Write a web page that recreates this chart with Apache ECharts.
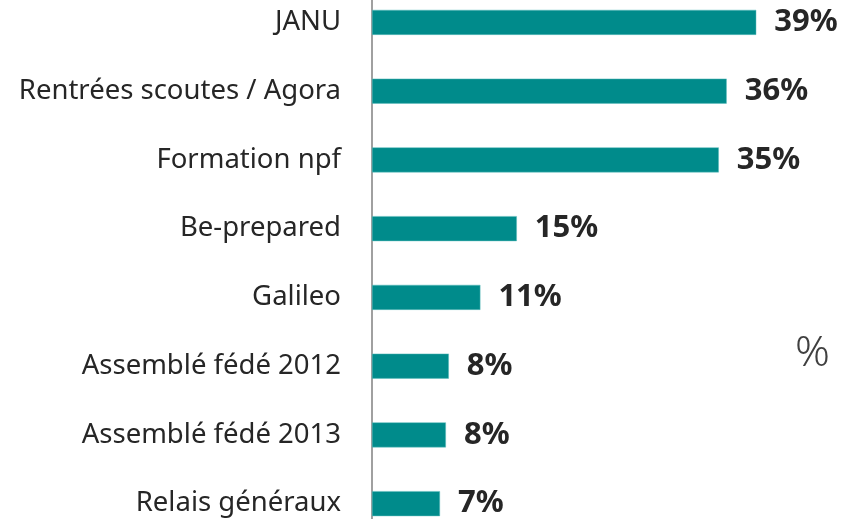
<!DOCTYPE html>
<html>
<head>
<meta charset="utf-8">
<script src="https://cdn.jsdelivr.net/npm/echarts@6/dist/echarts.min.js"></script>
<style>
  html, body { margin: 0; padding: 0; background: #fff; }
  #chart { width: 842px; height: 519px; }
</style>
</head>
<body>
<div id="chart"></div>
<script>
// categories top to bottom
const categories = [
  'JANU',
  'Rentrées scoutes / Agora',
  'Formation npf',
  'Be-prepared',
  'Galileo',
  'Assemblé fédé 2012',
  'Assemblé fédé 2013',
  'Relais généraux'
];
// share in percent
const values = [39.0, 36.0, 35.2, 14.7, 11.0, 7.8, 7.5, 6.9];
const unitLabel = '%';

const chart = echarts.init(document.getElementById('chart'));

const option = {
  backgroundColor: '#fff',
  animation: false,
  grid: { left: 372, top: -12, width: 468, height: 550, outerBoundsMode: 'none' },
  xAxis: {
    type: 'value',
    min: 0,
    max: 47.5,
    show: false
  },
  yAxis: {
    type: 'category',
    inverse: true,
    data: categories,
    axisLine: { show: true, lineStyle: { color: '#808080', width: 1.5 } },
    axisTick: { show: false },
    axisLabel: {
      margin: 31,
      color: '#262626',
      fontSize: 27.5,
      fontFamily: 'Noto Sans'
    }
  },
  graphic: [{
    type: 'text',
    left: 795,
    top: 332,
    style: {
      text: unitLabel,
      fill: '#404040',
      font: '300 43px "Noto Sans"'
    }
  }],
  series: [{
    type: 'bar',
    data: values,
    barWidth: 25,
    itemStyle: { color: '#008B8B', borderColor: '#5fbcbc', borderWidth: 0.5 },
    label: {
      show: true,
      position: 'right',
      distance: 18,
      color: '#262626',
      fontSize: 31,
      fontWeight: 'bold',
      fontFamily: 'Noto Sans',
      formatter: p => Math.round(p.value) + '%'
    }
  }]
};

chart.setOption(option);
</script>
</body>
</html>
